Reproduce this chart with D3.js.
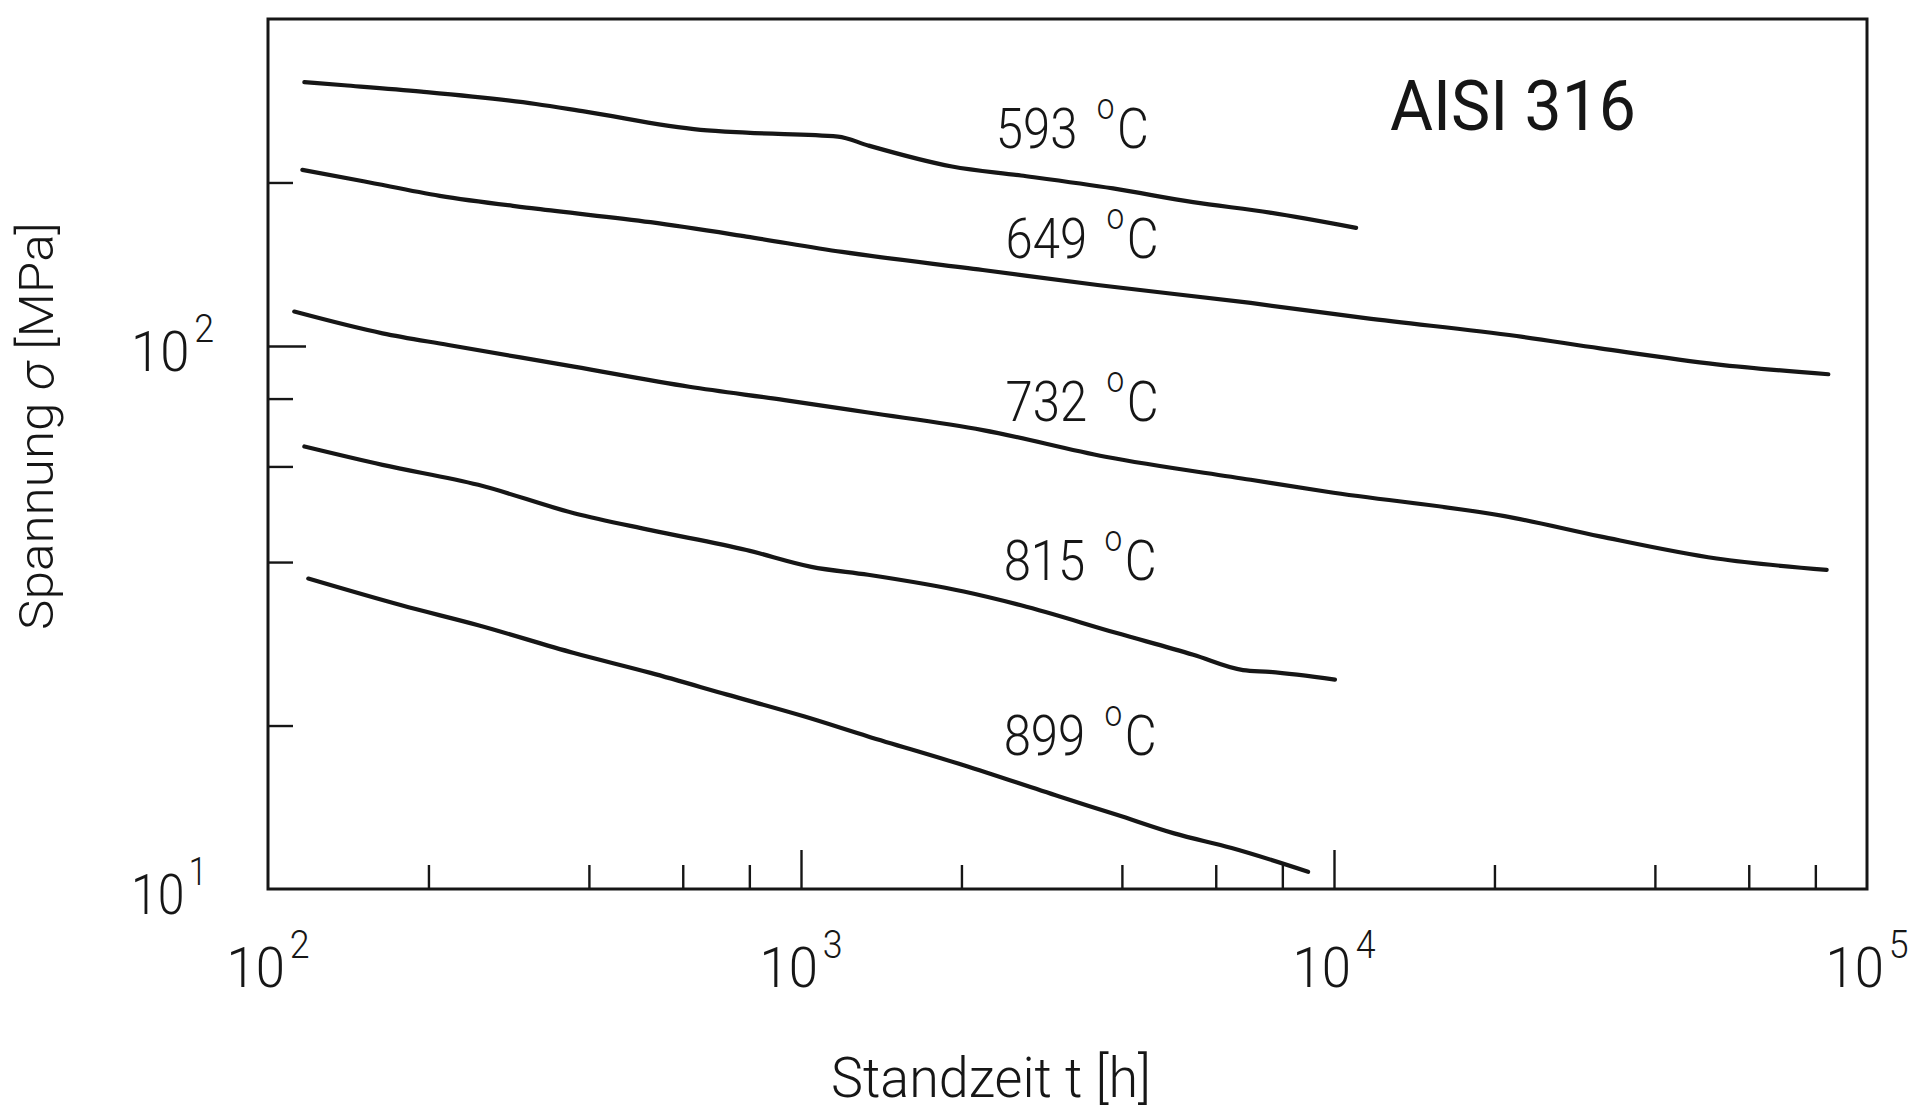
<!DOCTYPE html>
<html>
<head>
<meta charset="utf-8">
<script src="https://cdn.jsdelivr.net/npm/d3@7"></script>
<style>
  html, body { margin: 0; padding: 0; background: #ffffff; }
  svg { display: block; }
  text { font-family: Roboto, "Liberation Sans", Arial, sans-serif; fill: #161616; }
</style>
</head>
<body>
<svg id="chart" width="1930" height="1109"></svg>
<script>
// Zeitstandfestigkeit von AISI 316: Spannung über Standzeit, je Prüftemperatur

const temperatures = ["593", "649", "732", "815", "899"];

// Standzeit t [h] und Spannung σ [MPa] entlang jeder Kurve
const t593 = [117, 139, 194, 318, 394, 648, 790, 1173, 1336, 1920, 2587, 3850, 5440, 7585, 11000];
const s593 = [306, 302, 294, 279, 270, 250, 247, 243, 234, 214, 206, 195, 184, 176, 165];

const t649 = [116, 151, 210, 318, 522, 790, 1194, 2193, 3601, 6977, 11460, 22020, 31550, 52240, 84600];
const s649 = [211, 201, 189, 179, 169, 159, 149, 138, 129.5, 120, 112.5, 104.3, 99, 92.5, 88.7];

const t732 = [112, 164, 218, 375, 617, 932, 1336, 2193, 3724, 6977, 9703, 21840, 31550, 52240, 84000];
const s732 = [115.7, 105.5, 100.4, 91.6, 84.1, 79.5, 75.4, 70, 62.5, 56.7, 53.9, 48.2, 44.6, 40.6, 38.7];

const t815 = [117, 164, 248, 375, 522, 790, 1046, 1336, 2020, 2587, 3913, 5445, 6750, 7578, 10040];
const s815 = [65.3, 60.4, 55.5, 49.2, 45.8, 42.1, 39.2, 37.9, 35.3, 33.3, 29.6, 27.0, 25.3, 25.1, 24.3];

const t899 = [119, 178, 248, 375, 522, 727, 1012, 1336, 2020, 3053, 3913, 5013, 6427, 8940];
const s899 = [37.3, 33.3, 30.6, 27.2, 25.0, 22.8, 20.8, 19.1, 16.9, 14.8, 13.7, 12.66, 11.9, 10.76];

const seriesT = [t593, t649, t732, t815, t899];
const seriesS = [s593, s649, s732, s815, s899];

// Beschriftung der Kurven (linker Rand / Grundlinie in Datenkoordinaten)
const labelT = [2320, 2420, 2420, 2400, 2400];
const labelS = [231.5, 145.2, 72.6, 37.0, 17.65];

// Achsen
const xDomain = [1e2, 1e5];
const yDomain = [10, 400];
const xMajorTicks = [1e3, 1e4];
const xMinorTicks = [200, 400, 600, 800, 2000, 4000, 6000, 8000, 20000, 40000, 60000, 80000];
const yMajorTicks = [100];
const yMinorTicks = [20, 40, 60, 80, 200];
const xLabelValues = [1e2, 1e3, 1e4, 1e5];
const xLabelExponents = ["2", "3", "4", "5"];
const yLabelValues = [10, 100];
const yLabelExponents = ["1", "2"];

const xTitle = "Standzeit t [h]";
const yTitleParts = ["Spannung ", "σ", " [MPa]"];
const materialTitle = "AISI 316";

// ---------------------------------------------------------------------------
const svg = d3.select("#chart");
const ink = "#161616";

const x = d3.scaleLog().domain(xDomain).range([268, 1867]);
const y = d3.scaleLog().domain(yDomain).range([889, 19]);

const plot = svg.append("g");

// Rahmen
plot.append("rect")
  .attr("x", x(xDomain[0]))
  .attr("y", y(yDomain[1]))
  .attr("width", x(xDomain[1]) - x(xDomain[0]))
  .attr("height", y(yDomain[0]) - y(yDomain[1]))
  .attr("fill", "none")
  .attr("stroke", ink)
  .attr("stroke-width", 3);

// Teilstriche nach innen
function tickAxis(axis, transform, width) {
  const g = plot.append("g").attr("transform", transform).call(axis);
  g.select(".domain").remove();
  g.selectAll(".tick line").attr("stroke", ink).attr("stroke-width", width);
  g.selectAll(".tick text").remove();
  return g;
}
tickAxis(d3.axisBottom(x).tickValues(xMinorTicks).tickSize(-24).tickSizeOuter(0).tickFormat(""),
  `translate(0,${y(yDomain[0])})`, 2.4);
tickAxis(d3.axisBottom(x).tickValues(xMajorTicks).tickSize(-39).tickSizeOuter(0).tickFormat(""),
  `translate(0,${y(yDomain[0])})`, 2.4);
tickAxis(d3.axisLeft(y).tickValues(yMinorTicks).tickSize(-25).tickSizeOuter(0).tickFormat(""),
  `translate(${x(xDomain[0])},0)`, 2.4);
tickAxis(d3.axisLeft(y).tickValues(yMajorTicks).tickSize(-38).tickSizeOuter(0).tickFormat(""),
  `translate(${x(xDomain[0])},0)`, 2.4);

// Kurven
const line = d3.line()
  .x(d => x(d[0]))
  .y(d => y(d[1]))
  .curve(d3.curveMonotoneX);

seriesT.forEach((ts, i) => {
  const pts = ts.map((t, j) => [t, seriesS[i][j]]);
  plot.append("path")
    .datum(pts)
    .attr("d", line)
    .attr("fill", "none")
    .attr("stroke", ink)
    .attr("stroke-width", 4.2)
    .attr("stroke-linecap", "round")
    .attr("stroke-linejoin", "round");
});

// Text horizontal auf eine Breite bringen (schmale Schrift)
function squeeze(textSel, targetWidth) {
  const w = textSel.node().getBBox().width;
  const k = w > 0 ? targetWidth / w : 1;
  textSel.attr("transform", `scale(${k},1)`);
}

// Potenz 10^n
function powerLabel(parent, px, py, exp, anchor, width) {
  const g = parent.append("g").attr("transform", `translate(${px},${py})`);
  const t = g.append("text")
    .attr("text-anchor", anchor)
    .attr("font-size", 56)
    .attr("font-weight", 300);
  t.append("tspan").text("10");
  t.append("tspan").attr("dx", 5).attr("dy", -29).attr("font-size", 38).text(exp);
  squeeze(t, width);
  return g;
}

xLabelValues.forEach((v, i) => {
  powerLabel(svg, x(v), 987, xLabelExponents[i], "middle", 83);
});
yLabelValues.forEach((v, i) => {
  powerLabel(svg, 131, y(v) + 25, yLabelExponents[i], "start", i === 0 ? 76 : 83);
});

// Temperaturbeschriftung "xxx °C"
temperatures.forEach((temp, i) => {
  const g = svg.append("g").attr("transform", `translate(${x(labelT[i])},${y(labelS[i])})`);
  const t = g.append("text")
    .attr("font-size", 56)
    .attr("font-weight", 300);
  t.append("tspan").text(temp);
  t.append("tspan").attr("dx", 22).attr("dy", -29).attr("font-size", 36).text("o");
  t.append("tspan").attr("dx", 3).attr("dy", 29).text("C");
  squeeze(t, 153);
});

// Werkstoff
{
  const g = svg.append("g").attr("transform", `translate(1390,130)`);
  const t = g.append("text")
    .attr("font-size", 70)
    .attr("font-weight", 400)
    .text(materialTitle);
  squeeze(t, 246);
}

// Achsentitel
{
  const g = svg.append("g").attr("transform", `translate(991,1097)`);
  const t = g.append("text")
    .attr("text-anchor", "middle")
    .attr("font-size", 56)
    .attr("font-weight", 300)
    .text(xTitle);
  squeeze(t, 320);
}
{
  const g = svg.append("g").attr("transform", `translate(53,426) rotate(-90)`);
  const t = g.append("text")
    .attr("text-anchor", "middle")
    .attr("font-size", 49)
    .attr("font-weight", 300);
  t.append("tspan").text(yTitleParts[0]);
  t.append("tspan").attr("font-style", "italic").text(yTitleParts[1]);
  t.append("tspan").text(yTitleParts[2]);
  squeeze(t, 408);
}
</script>
</body>
</html>
